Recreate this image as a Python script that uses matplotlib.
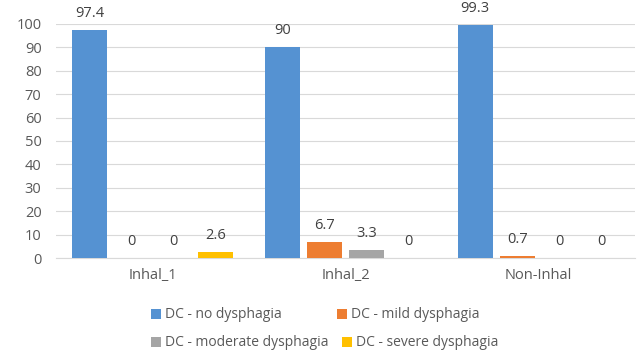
import numpy as np
import matplotlib
matplotlib.use("Agg")
from matplotlib import pyplot as plt

groups = ["Inhal_1", "Inhal_2", "Non-Inhal"]
series = ["DC - no dysphagia", "DC - mild dysphagia",
          "DC - moderate dysphagia", "DC - severe dysphagia"]
no_dys = [97.4, 90, 99.3]
mild_dys = [0, 6.7, 0.7]
moderate_dys = [0, 3.3, 0]
severe_dys = [2.6, 0, 0]
colors = ["#5592D2", "#ED7D31", "#A5A5A5", "#FFC000"]

plt.rcParams["font.family"] = ["Open Sans", "DejaVu Sans"]

fig = plt.figure(figsize=(6.38, 3.56), dpi=100)
ax = fig.add_axes([0.088, 0.275, 0.907, 0.658])

x = np.arange(len(groups))
slot = 0.218
width = 0.18
all_vals = [no_dys, mild_dys, moderate_dys, severe_dys]
handles = []
for i, (name, vals, c) in enumerate(zip(series, all_vals, colors)):
    pos = x + (i - 1.5) * slot
    h = ax.bar(pos, vals, width=width, color=c, label=name, zorder=3)
    handles.append(h)
    for p, v in zip(pos, vals):
        ax.annotate(f"{v:g}", (p, v), xytext=(0, 12), textcoords="offset points",
                    ha="center", va="center", fontsize=10.5, color="#404040")

ax.set_xlim(-0.5, 2.5)
ax.set_ylim(0, 100)
ax.set_yticks(range(0, 101, 10))
ax.set_xticks(x)
ax.set_xticklabels(groups)
ax.yaxis.grid(True, color="#D9D9D9", linewidth=0.8, zorder=0)
for s in ["top", "right", "left"]:
    ax.spines[s].set_visible(False)
ax.spines["bottom"].set_color("#D9D9D9")
ax.tick_params(axis="both", length=0, labelsize=10.5, colors="#595959")
ax.tick_params(axis="x", pad=7)
ax.tick_params(axis="y", pad=10.5)

# Excel-style legend: rows are not column aligned, so place each entry
legend_spots = [(151, 315), (337, 315), (151, 343), (342, 343)]
for h, name, (px, py) in zip(handles, series, legend_spots):
    fig.legend([h], [name], loc="center left",
               bbox_to_anchor=(px / 638, 1 - py / 356),
               frameon=False, borderpad=0, borderaxespad=0,
               fontsize=10, handlelength=0.7, handleheight=0.7,
               handletextpad=0.3, labelcolor="#595959")

fig.savefig("out.png", dpi=100)
